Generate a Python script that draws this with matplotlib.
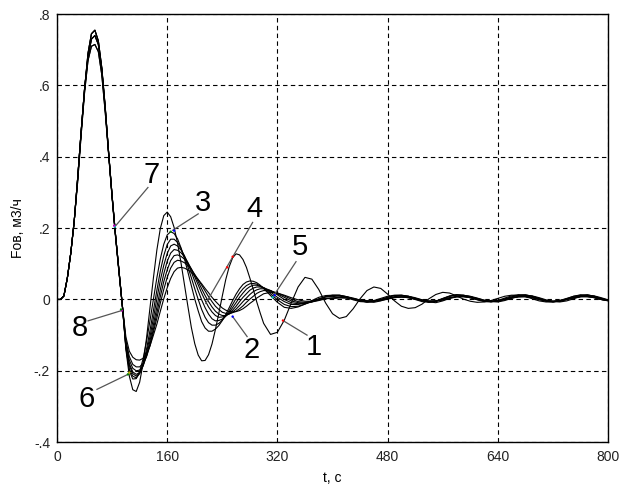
import numpy as np
import matplotlib
matplotlib.use('Agg')
from matplotlib import pyplot as plt

plt.rcParams['font.family'] = ['Liberation Sans', 'DejaVu Sans']

########################################################################
# Data: 5 s step up to 295 s, 10 s step after
########################################################################

t = list(range(0, 300, 5)) + list(range(300, 801, 10))

# 0..95 s, common rise / fall
head_hi = [0, 0, 0.01, 0.06, 0.13, 0.22, 0.34, 0.47, 0.59, 0.69,
           0.745, 0.755, 0.725, 0.65, 0.54, 0.41, 0.29, 0.18, 0.08, -0.02]
head_mid = [0, 0, 0.01, 0.06, 0.13, 0.22, 0.34, 0.47, 0.59, 0.68,
            0.73, 0.74, 0.715, 0.645, 0.535, 0.41, 0.29, 0.18, 0.08, -0.02]
head_lo = [0, 0, 0.01, 0.06, 0.13, 0.22, 0.33, 0.46, 0.58, 0.67,
           0.71, 0.715, 0.695, 0.63, 0.525, 0.405, 0.285, 0.175, 0.075, -0.02]

# 100..295 s
early_1 = [-0.14, -0.215, -0.253, -0.258, -0.232, -0.179, -0.108, -0.023, 0.061, 0.139,
           0.199, 0.235, 0.245, 0.232, 0.202, 0.158, 0.103, 0.042, -0.019, -0.078,
           -0.124, -0.156, -0.172, -0.171, -0.155, -0.125, -0.084, -0.038, 0.01, 0.056,
           0.092, 0.117, 0.128, 0.125, 0.112, 0.09, 0.06, 0.028, -0.007, -0.038]
early_2 = [-0.135, -0.2, -0.223, -0.222, -0.202, -0.166, -0.117, -0.059, 0.001, 0.061,
           0.114, 0.155, 0.181, 0.19, 0.185, 0.17, 0.145, 0.114, 0.077, 0.039,
           0.001, -0.032, -0.062, -0.08, -0.089, -0.089, -0.083, -0.073, -0.059, -0.042,
           -0.023, -0.003, 0.015, 0.03, 0.042, 0.049, 0.052, 0.051, 0.047, 0.04]
early_3 = [-0.135, -0.195, -0.215, -0.22, -0.208, -0.18, -0.139, -0.087, -0.031, 0.026,
           0.08, 0.123, 0.154, 0.169, 0.169, 0.16, 0.143, 0.12, 0.092, 0.061,
           0.03, 0.0, -0.028, -0.05, -0.065, -0.072, -0.072, -0.067, -0.058, -0.046,
           -0.031, -0.014, 0.003, 0.018, 0.03, 0.039, 0.044, 0.045, 0.043, 0.038]
early_4 = [-0.13, -0.185, -0.208, -0.215, -0.207, -0.185, -0.148, -0.104, -0.052, 0.002,
           0.054, 0.096, 0.129, 0.15, 0.155, 0.15, 0.139, 0.123, 0.101, 0.077,
           0.051, 0.024, -0.001, -0.023, -0.041, -0.054, -0.06, -0.059, -0.055, -0.047,
           -0.036, -0.023, -0.009, 0.006, 0.018, 0.029, 0.036, 0.04, 0.04, 0.037]
early_5 = [-0.125, -0.18, -0.203, -0.21, -0.205, -0.187, -0.157, -0.116, -0.07, -0.021,
           0.028, 0.072, 0.107, 0.13, 0.14, 0.138, 0.131, 0.12, 0.104, 0.085,
           0.063, 0.041, 0.018, -0.003, -0.021, -0.035, -0.045, -0.05, -0.049, -0.046,
           -0.039, -0.03, -0.019, -0.006, 0.006, 0.016, 0.026, 0.032, 0.035, 0.035]
early_6 = [-0.12, -0.17, -0.193, -0.2, -0.198, -0.184, -0.159, -0.125, -0.083, -0.038,
           0.008, 0.05, 0.083, 0.109, 0.123, 0.125, 0.121, 0.113, 0.101, 0.086,
           0.069, 0.05, 0.03, 0.011, -0.006, -0.021, -0.033, -0.041, -0.045, -0.045,
           -0.041, -0.035, -0.027, -0.017, -0.006, 0.004, 0.014, 0.022, 0.027, 0.03]
early_7 = [-0.115, -0.16, -0.182, -0.189, -0.189, -0.179, -0.16, -0.13, -0.091, -0.052,
           -0.01, 0.028, 0.062, 0.088, 0.104, 0.11, 0.108, 0.103, 0.095, 0.084,
           0.07, 0.056, 0.04, 0.024, 0.008, -0.006, -0.019, -0.028, -0.036, -0.039,
           -0.04, -0.037, -0.033, -0.026, -0.018, -0.008, 0.001, 0.009, 0.017, 0.022]
early_8 = [-0.105, -0.145, -0.162, -0.169, -0.17, -0.165, -0.152, -0.13, -0.1, -0.069,
           -0.033, 0.002, 0.033, 0.059, 0.078, 0.088, 0.09, 0.088, 0.083, 0.076,
           0.066, 0.056, 0.044, 0.031, 0.019, 0.006, -0.005, -0.015, -0.024, -0.03,
           -0.034, -0.035, -0.034, -0.031, -0.026, -0.019, -0.011, -0.004, 0.004, 0.01]

# 300..800 s for the most oscillating curve
late_1 = [-0.067, -0.098, -0.092, -0.058, -0.01, 0.035, 0.062, 0.057, 0.028, -0.01,
          -0.04, -0.053, -0.048, -0.026, 0.002, 0.025, 0.035, 0.031, 0.015, -0.004,
          -0.019, -0.025, -0.023, -0.013, 0.002, 0.014, 0.02, 0.018, 0.01, 0.001,
          -0.005, -0.008, -0.007, -0.003, 0.003, 0.009, 0.012, 0.012, 0.008, 0.002,
          -0.004, -0.007, -0.007, -0.003, 0.003, 0.009, 0.012, 0.011, 0.006, 0.0,
          -0.003]

# 300..390 s for the damped curves
late_2 = [0.031, 0.011, -0.008, -0.022, -0.025, -0.021, -0.013, -0.003, 0.006, 0.011]
late_3 = [0.033, 0.016, -0.001, -0.014, -0.02, -0.019, -0.013, -0.006, 0.002, 0.008]
late_4 = [0.033, 0.021, 0.006, -0.006, -0.014, -0.014, -0.01, -0.004, 0.0, 0.003]
late_5 = [0.033, 0.025, 0.013, 0.0, -0.009, -0.012, -0.011, -0.007, 0.001, 0.007]
late_6 = [0.03, 0.025, 0.016, 0.006, -0.004, -0.009, -0.01, -0.007, -0.003, 0.002]
late_7 = [0.025, 0.024, 0.018, 0.01, 0.001, -0.006, -0.008, -0.006, -0.002, 0.003]
late_8 = [0.016, 0.02, 0.018, 0.012, 0.005, -0.001, -0.005, -0.005, -0.001, 0.008]

# small residual oscillation, 400..800 s
tail_1 = [0.012, 0.012, 0.008, 0.002, -0.004, -0.007, -0.005, 0.0, 0.006, 0.011,
          0.012, 0.009, 0.003, -0.003, -0.007, -0.005, 0.002, 0.009, 0.013, 0.012,
          0.008, 0.002, -0.004, -0.006, -0.004, 0.001, 0.007, 0.012, 0.013, 0.009,
          0.003, -0.003, -0.006, -0.005, 0.0, 0.006, 0.011, 0.013, 0.009, 0.003,
          -0.002]
tail_2 = [0.008, 0.01, 0.008, 0.004, -0.002, -0.007, -0.008, -0.004, 0.002, 0.008,
          0.01, 0.009, 0.005, -0.001, -0.007, -0.009, -0.004, 0.003, 0.009, 0.011,
          0.009, 0.004, -0.002, -0.006, -0.007, -0.003, 0.003, 0.009, 0.011, 0.01,
          0.005, -0.001, -0.006, -0.007, -0.004, 0.002, 0.008, 0.011, 0.01, 0.005,
          -0.001]
tail_3 = [0.004, 0.006, 0.005, 0.002, -0.002, -0.004, -0.004, -0.001, 0.003, 0.006,
          0.007, 0.005, 0.001, -0.003, -0.005, -0.004, 0.0, 0.005, 0.008, 0.008,
          0.005, 0.0, -0.004, -0.005, -0.003, 0.001, 0.005, 0.008, 0.008, 0.005,
          0.0, -0.004, -0.005, -0.003, 0.001, 0.005, 0.008, 0.008, 0.005, 0.0,
          -0.003]
tail_4 = [0.011, 0.01, 0.005, -0.001, -0.006, -0.007, -0.003, 0.003, 0.009, 0.012,
          0.011, 0.006, 0.0, -0.006, -0.008, -0.005, 0.003, 0.01, 0.013, 0.01,
          0.005, -0.001, -0.006, -0.007, -0.003, 0.004, 0.01, 0.013, 0.011, 0.006,
          0.0, -0.005, -0.007, -0.004, 0.002, 0.009, 0.013, 0.011, 0.006, 0.0,
          -0.004]
tail_5 = [0.003, 0.004, 0.004, 0.002, -0.001, -0.004, -0.005, -0.003, 0.001, 0.005,
          0.007, 0.006, 0.003, -0.001, -0.004, -0.005, -0.002, 0.003, 0.007, 0.008,
          0.007, 0.003, -0.002, -0.005, -0.005, -0.001, 0.004, 0.007, 0.008, 0.006,
          0.002, -0.003, -0.005, -0.004, 0.0, 0.004, 0.008, 0.008, 0.006, 0.002,
          -0.002]

curves = [
    head_hi + early_1 + late_1,
    head_hi + early_2 + late_2 + tail_1,
    head_mid + early_3 + late_3 + tail_2,
    head_lo + early_4 + late_4 + tail_3,
    head_mid + early_5 + late_5 + tail_4,
    head_lo + early_6 + late_6 + tail_5,
    head_mid + early_7 + late_7 + tail_3,
    head_hi + early_8 + late_8 + tail_1,
]

# curve labels: text position, leader start, leader end (data units)
label_text = ['7', '3', '4', '5', '1', '2', '8', '6']
label_pos = [(138, 0.35), (212, 0.27), (286, 0.255), (353, 0.148),
             (373, -0.132), (283, -0.143), (33, -0.081), (43, -0.278)]
leader_from = [(132, 0.314), (205, 0.24), (284, 0.216), (347, 0.106),
               (363, -0.1), (276, -0.104), (45, -0.06), (58, -0.252)]
leader_to = [(84, 0.204), (168, 0.194), (216, -0.011), (313, 0.006),
             (328, -0.059), (255, -0.048), (94, -0.031), (103, -0.21)]

# tiny coloured data-tip dots
dot_t = [84, 83, 165, 170, 247, 255, 313, 316, 328, 255, 94, 93, 103, 105]
dot_v = [0.204, 0.207, 0.19, 0.193, 0.09, 0.12, 0.006, 0.012, -0.059, -0.048,
         -0.031, -0.028, -0.21, -0.205]
dot_c = ['c', 'm', 'g', 'b', 'r', 'r', 'c', 'b', 'r', 'b', 'm', 'g', 'g', 'y']

ytick_vals = [-0.4, -0.2, 0, 0.2, 0.4, 0.6, 0.8]
ytick_labels = ['-.4', '-.2', '0', '.2', '.4', '.6', '.8']
xtick_vals = [0, 160, 320, 480, 640, 800]

########################################################################
# Plot
########################################################################

fig = plt.figure(figsize=(6.23, 4.88), dpi=100)
ax = fig.add_axes([0.0915, 0.094, 0.8845, 0.877])

for f in curves:
    ax.plot(t, f, color='black', lw=0.8)

for (x0, y0), (x1, y1) in zip(leader_from, leader_to):
    ax.plot([x0, x1], [y0, y1], color='#555555', lw=0.9)

ax.scatter(dot_t, dot_v, c=dot_c, s=3, zorder=5, linewidths=0)

for txt, (x, y) in zip(label_text, label_pos):
    ax.text(x, y, txt, fontsize=21, ha='center', va='center')

ax.set_xlim(0, 800)
ax.set_ylim(-0.4, 0.8)
ax.set_xticks(xtick_vals)
ax.set_yticks(ytick_vals)
ax.set_yticklabels(ytick_labels)
ax.tick_params(length=0, labelsize=10, colors='#222222')
ax.tick_params(axis='x', pad=6)
ax.tick_params(axis='y', pad=5)
ax.grid(True, color='black', lw=0.8, linestyle=(0, (4, 3)))
for s in ax.spines.values():
    s.set_linewidth(1.0)

ax.set_xlabel('t, c', fontsize=10, labelpad=5)
ax.set_ylabel('Fов, м3/ч', fontsize=10, labelpad=6)

plt.savefig('out.png', dpi=100)
